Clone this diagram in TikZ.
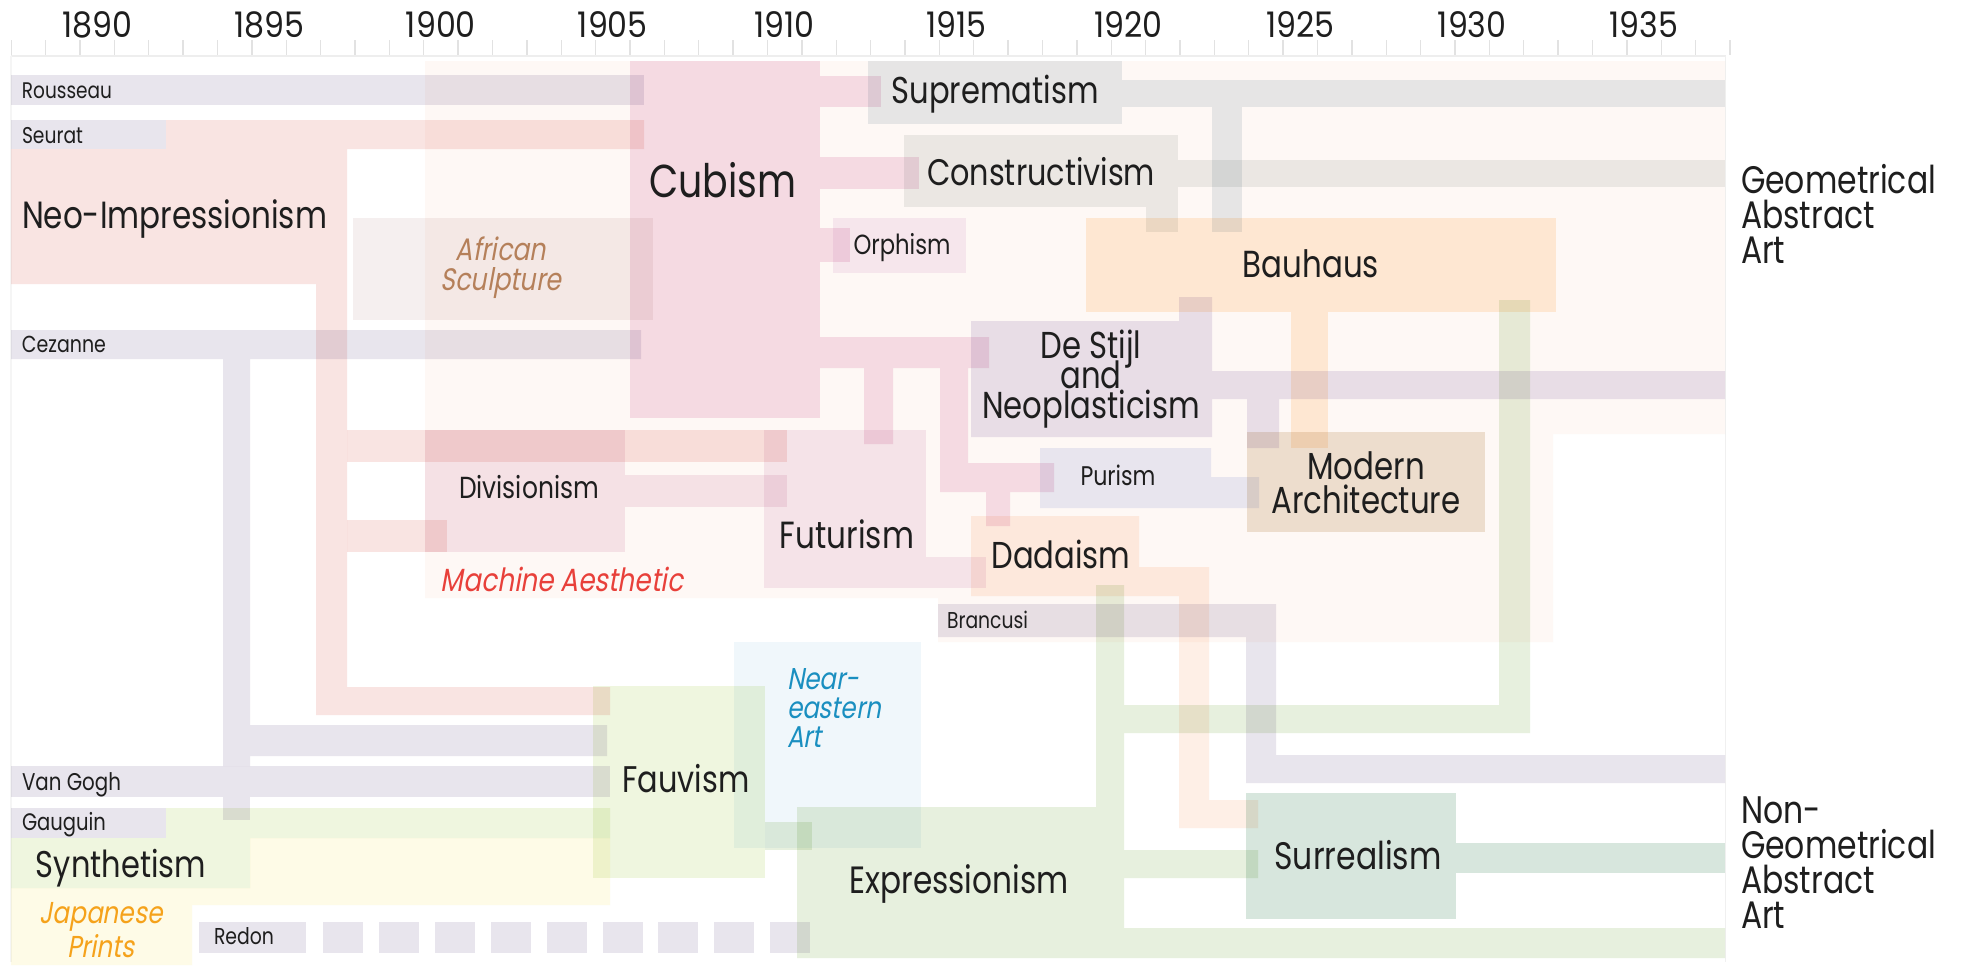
\documentclass[tikz,border=0pt]{standalone}
\usepackage{fontspec}
\setmainfont{Poppins}[FakeStretch=0.82]
\newfontfamily\itfont{Poppins}[FakeStretch=0.82,FakeSlant=0.18]
\newfontfamily\yearfont{Poppins}[FakeStretch=0.9]
\usepackage{graphicx}
\newcommand{\fitw}[2]{\resizebox{#1pt}{!}{#2}}
\newlength\fitlen
% centred block of lines: #1 font, #2 target width of widest line, #3 widest line, #4 baseline skip, #5 rows separated by \cr
\newcommand\fitC[5]{\begingroup#1\settowidth\fitlen{#3}%
  \pgfmathsetmacro\fitfac{#2/\fitlen}\pgfmathsetmacro\fitskip{#4/\fitfac}%
  \scalebox{\fitfac}{\vbox{\baselineskip=\fitskip pt\lineskiplimit=-1000pt\lineskip=0pt\halign{\hfil##\hfil\cr#5\cr}}}\endgroup}
\newcommand\fitL[5]{\begingroup#1\settowidth\fitlen{#3}%
  \pgfmathsetmacro\fitfac{#2/\fitlen}\pgfmathsetmacro\fitskip{#4/\fitfac}%
  \scalebox{\fitfac}{\vbox{\baselineskip=\fitskip pt\lineskiplimit=-1000pt\lineskip=0pt\halign{##\hfil\cr#5\cr}}}\endgroup}
\definecolor{bgc}{HTML}{FEF8F5}
\definecolor{artist}{HTML}{E8E5ED}
\definecolor{neoimp}{HTML}{F9E4E2}
\definecolor{cubism}{HTML}{F6E1EC}
\definecolor{african}{HTML}{F5EFEF}
\definecolor{suprem}{HTML}{E7ECEF}
\definecolor{constr}{HTML}{ECEEED}
\definecolor{orph}{HTML}{F7EDF6}
\definecolor{bauhaus}{HTML}{FFEEDB}
\definecolor{destijl}{HTML}{E9E4F0}
\definecolor{modarch}{HTML}{EEE4D6}
\definecolor{purism}{HTML}{E9ECF8}
\definecolor{divis}{HTML}{F6E8EF}
\definecolor{futur}{HTML}{F6EAF2}
\definecolor{dada}{HTML}{FEEFE6}
\definecolor{fauv}{HTML}{EFF6DF}
\definecolor{neareast}{HTML}{F0F7FB}
\definecolor{synth}{HTML}{EFF6DF}
\definecolor{japan}{HTML}{FEFBE7}
\definecolor{expr}{HTML}{E7F0DE}
\definecolor{surr}{HTML}{D7E6DD}
\definecolor{tickc}{HTML}{E2E2E2}
\definecolor{txt}{HTML}{1E1E1E}
\definecolor{afrtxt}{HTML}{B5805A}
\definecolor{machtxt}{HTML}{E8403A}
\definecolor{neartxt}{HTML}{1A8FC0}
\definecolor{japtxt}{HTML}{F5A21B}
\tikzset{
  lbl/.style={inner sep=0pt, outer sep=0pt, text=txt},
  tickline/.style={draw=tickc, line width=1.3pt},
}
\begin{document}
\begin{tikzpicture}[x=1pt,y=-1pt]
\useasboundingbox (0,0) rectangle (1962,967);
\fill[white] (0,0) rectangle (1962,967);
% ruler
\foreach \k in {0,...,50} \draw[tickline] ({11.25+34.375*\k},40) -- ({11.25+34.375*\k},55);
\draw[draw=tickc!60, line width=1.3pt] (11,56) -- (1726,56);
\draw[draw=tickc!50, line width=1.3pt] (1725.5,56) -- (1725.5,962);
\draw[draw=tickc!35, line width=1.3pt] (11,56) -- (11,962);
\foreach \yr in {1890,1895,...,1935}
  \node[lbl, anchor=base] (y\yr) at ({11.25+34.375*(\yr-1888)+17.19},37) {\fitC{\yearfont}{70}{1890}{30}{\yr}};
\begin{scope}[blend mode=multiply]
% background region
\fill[bgc] (425,61) -- (1725,61) -- (1725,434) -- (1553,434) -- (1553,642) -- (938,642) -- (938,598) -- (425,598) -- cycle;
% artists
\fill[artist] (11,75) rectangle (644,105);   % Rousseau
\fill[artist] (11,120) rectangle (166,149);  % Seurat
\fill[artist] (11,330) -- (641,330) -- (641,359) -- (250,359) -- (250,725) -- (607,725) -- (607,756) -- (250,756) -- (250,766) -- (223,766) -- (223,359) -- (11,359) -- cycle; % Cezanne
\fill[artist] (223,797) rectangle (250,820);
\fill[artist] (11,766) rectangle (610,797);  % Van Gogh
\fill[artist] (11,808) rectangle (166,838);  % Gauguin
\fill[artist] (199,922) rectangle (306,953); % Redon
\foreach \i in {0,...,8} \fill[artist] ({323+55.9*\i},922) rectangle ++(40,31);
\fill[artist] (938,604) -- (1276,604) -- (1276,755) -- (1725,755) -- (1725,783) -- (1246,783) -- (1246,637) -- (938,637) -- cycle; % Brancusi
% Neo-Impressionism
\fill[neoimp] (11,149) -- (166,149) -- (166,120) -- (644,120) -- (644,149) -- (347,149) -- (347,687) -- (610,687) -- (610,715) -- (316,715) -- (316,284) -- (11,284) -- cycle;
\fill[neoimp] (347,430) rectangle (787,462);
\fill[neoimp] (347,520) rectangle (447,552);
% African sculpture
\fill[african] (353,218) rectangle (653,320);
% Cubism
\fill[cubism] (630,61) rectangle (820,418);
\fill[cubism] (820,76) rectangle (881,107);
\fill[cubism] (820,157) rectangle (919,189);
\fill[cubism] (820,228) rectangle (850,262);
\fill[cubism] (820,337) -- (989,337) -- (989,368) -- (968,368) -- (968,463) -- (1054,463) -- (1054,492) -- (1010,492) -- (1010,526) -- (986,526) -- (986,492) -- (940,492) -- (940,368) -- (893,368) -- (893,444) -- (864,444) -- (864,368) -- (820,368) -- cycle;
% Suprematism
\fill[suprem] (868,61) rectangle (1122,124);
\fill[suprem] (1122,80) rectangle (1725,107);
\fill[suprem] (1212,107) rectangle (1242,232);
% Constructivism
\fill[constr] (904,135) rectangle (1178,207);
\fill[constr] (1178,160) rectangle (1725,187);
\fill[constr] (1146,207) rectangle (1178,232);
% Orphism
\fill[orph] (833,218) rectangle (966,273);
% Bauhaus
\fill[bauhaus] (1086,218) rectangle (1556,312);
\fill[bauhaus] (1291,312) rectangle (1328,448);
% De Stijl
\fill[destijl] (971,321) -- (1179,321) -- (1179,297) -- (1212,297) -- (1212,371) -- (1725,371) -- (1725,399) -- (1279,399) -- (1279,448) -- (1247,448) -- (1247,399) -- (1212,399) -- (1212,437) -- (971,437) -- cycle;
% Modern Architecture
\fill[modarch] (1247,432) rectangle (1485,532);
% Purism
\fill[purism] (1040,448) -- (1211,448) -- (1211,477) -- (1259,477) -- (1259,508) -- (1040,508) -- cycle;
% Divisionism
\fill[divis] (425,430) rectangle (625,552);
\fill[divis] (625,475) rectangle (787,507);
% Futurism
\fill[futur] (764,430) rectangle (926,588);
\fill[futur] (926,557) rectangle (986,588);
% Dadaism
\fill[dada] (971,516) -- (1139,516) -- (1139,567) -- (1209,567) -- (1209,800) -- (1258,800) -- (1258,828) -- (1179,828) -- (1179,596) -- (971,596) -- cycle;
% Synthetism / Japanese prints
\fill[synth] (11,838) -- (166,838) -- (166,808) -- (610,808) -- (610,838) -- (250,838) -- (250,888) -- (11,888) -- cycle;
\fill[japan] (250,838) -- (610,838) -- (610,905) -- (192,905) -- (192,965) -- (11,965) -- (11,888) -- (250,888) -- cycle;
% Fauvism
\fill[fauv] (593,686) rectangle (765,878);
% Near-eastern
\fill[neareast] (734,642) rectangle (921,848);
% Expressionism
\fill[expr] (797,807) -- (1096,807) -- (1096,585) -- (1124,585) -- (1124,705) -- (1499,705) -- (1499,300) -- (1530,300) -- (1530,733) -- (1124,733) -- (1124,850) -- (1258,850) -- (1258,878) -- (1124,878) -- (1124,928) -- (1725,928) -- (1725,958) -- (797,958) -- cycle;
\fill[expr] (765,822) rectangle (812,850);
% Surrealism
\fill[surr] (1246,793) rectangle (1456,919);
\fill[surr] (1456,843) rectangle (1725,873);
\end{scope}
% texts
\node[lbl, anchor=base west] (rousseau) at (22,98) {\fitw{90}{Rousseau}};
\node[lbl, anchor=base west] (seurat) at (22,143) {\fitw{61}{Seurat}};
\node[lbl, anchor=base west] (neoimpT) at (22,228) {\fitw{305}{Neo-Impressionism}};
\node[lbl, anchor=base] (cubismT) at (723,197) {\fitw{147}{Cubism}};
\node[lbl, anchor=base] (supremT) at (995,103) {\fitw{207}{Suprematism}};
\node[lbl, anchor=base] (constrT) at (1041,185) {\fitw{228}{Constructivism}};
\node[lbl, anchor=base] (orphT) at (902,254) {\fitw{97}{Orphism}};
\node[lbl, anchor=base] (bauhausT) at (1311,277) {\fitw{136}{Bauhaus}};
\node[lbl, anchor=base, text=afrtxt] (afrT) at (501,290) {\fitC{\itfont}{121}{Sculpture}{30}{African\cr Sculpture}};
\node[lbl, anchor=base west] (cezanne) at (22,352) {\fitw{84}{Cezanne}};
\node[lbl, anchor=base] (destijlT) at (1091,418) {\fitC{}{218}{Neoplasticism}{30}{De Stijl\cr and\cr Neoplasticism}};
\node[lbl, anchor=base] (purismT) at (1118,485) {\fitw{75}{Purism}};
\node[lbl, anchor=base] (modarchT) at (1366,513) {\fitC{}{189}{Architecture}{34}{Modern\cr Architecture}};
\node[lbl, anchor=base] (divisT) at (529,498) {\fitw{140}{Divisionism}};
\node[lbl, anchor=base] (futurT) at (847,548) {\fitw{134}{Futurism}};
\node[lbl, anchor=base] (dadaT) at (1061,568) {\fitw{139}{Dadaism}};
\node[lbl, anchor=base, text=machtxt] (machT) at (562,591) {\fitw{242}{\itfont Machine Aesthetic}};
\node[lbl, anchor=base west] (brancusi) at (947,628) {\fitw{81}{Brancusi}};
\node[lbl, anchor=base west, text=neartxt] (nearT) at (787,747) {\fitL{\itfont}{94}{eastern}{29}{Near-\cr eastern\cr Art}};
\node[lbl, anchor=base] (fauvT) at (686,792) {\fitw{127}{Fauvism}};
\node[lbl, anchor=base west] (vangogh) at (22,790) {\fitw{99}{Van Gogh}};
\node[lbl, anchor=base west] (gauguin) at (22,830) {\fitw{84}{Gauguin}};
\node[lbl, anchor=base] (synthT) at (121,877) {\fitw{170}{Synthetism}};
\node[lbl, anchor=base] (exprT) at (959,893) {\fitw{219}{Expressionism}};
\node[lbl, anchor=base] (surrT) at (1358,869) {\fitw{167}{Surrealism}};
\node[lbl, anchor=base, text=japtxt] (japT) at (101,957) {\fitC{\itfont}{123}{Japanese}{34}{Japanese\cr Prints}};
\node[lbl, anchor=base west] (redon) at (214,944) {\fitw{60}{Redon}};
\node[lbl, anchor=base west] (geoT) at (1741,263) {\fitL{}{195}{Geometrical}{35}{Geometrical\cr Abstract\cr Art}};
\node[lbl, anchor=base west] (nongeoT) at (1741,928) {\fitL{}{195}{Geometrical}{35}{Non-\cr Geometrical\cr Abstract\cr Art}};
\end{tikzpicture}
\end{document}
